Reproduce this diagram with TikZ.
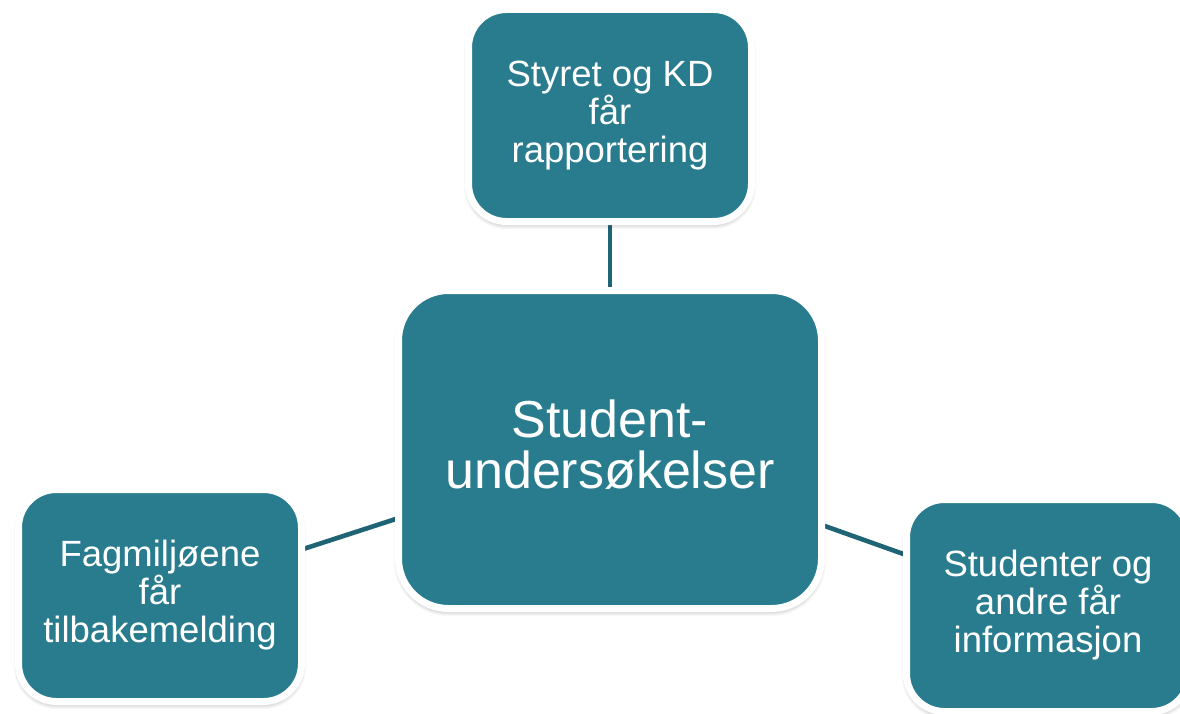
\documentclass[tikz,border=0pt]{standalone}
\usepackage{fontspec}
\setmainfont{Liberation Sans}
\usetikzlibrary{shadows.blur,backgrounds}
\definecolor{boxteal}{RGB}{40,124,142}
\definecolor{linkteal}{RGB}{30,100,116}
\tikzset{
  box/.style={draw=white, line width=7pt, fill=boxteal, text=white, align=center,
    rounded corners=38pt, inner sep=0pt, outer sep=0pt,
    blur shadow={shadow xshift=0pt, shadow yshift=-3pt, shadow blur radius=5pt,
      shadow blur steps=12, shadow opacity=35}},
  smallbox/.style={box, minimum width=283pt, minimum height=212pt,
    font=\fontsize{36.5}{38}\selectfont},
  bigbox/.style={box, minimum width=423pt, minimum height=318pt, rounded corners=50pt,
    font=\fontsize{52}{51}\selectfont, text depth=10pt},
  link/.style={draw=linkteal, line width=4.6pt}
}
\begin{document}
\begin{tikzpicture}[x=1pt,y=1pt]
\useasboundingbox (0,0) rectangle (1180,-714);
\node[bigbox] (center) at (610,-449.5) {Student-\\undersøkelser};
\node[smallbox] (top) at (610,-115.5) {Styret og KD\\får\\rapportering};
\node[smallbox] (left) at (160,-595.5) {Fagmiljøene\\får\\tilbakemelding};
\node[smallbox] (right) at (1048,-605.5) {Studenter og\\andre får\\informasjon};
\begin{scope}[on background layer]
\draw[link] (center.center) -- (top.center);
\draw[link] (center.center) -- (left.center);
\draw[link] (center.center) -- (right.center);
\end{scope}
\end{tikzpicture}
\end{document}
